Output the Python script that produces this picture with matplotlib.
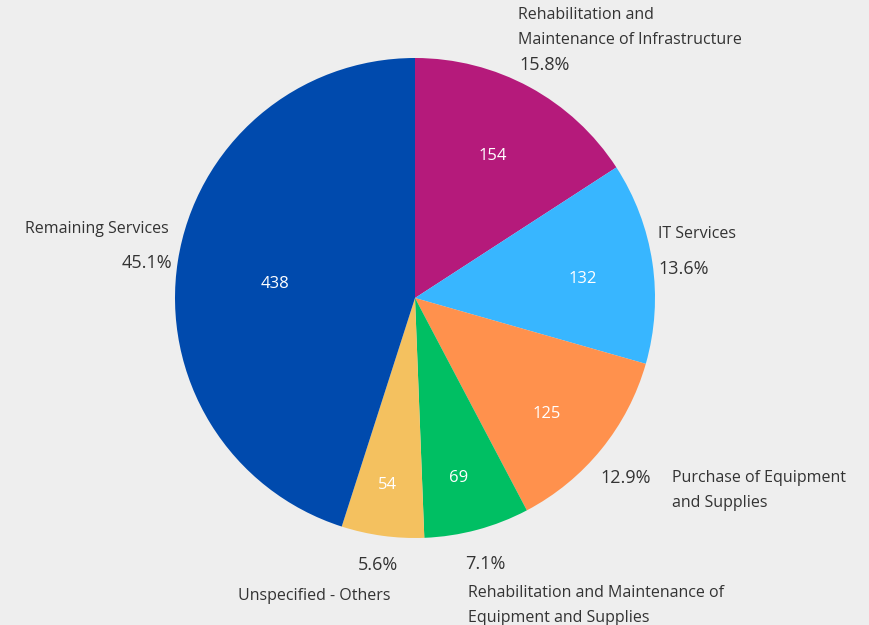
import numpy as np
import matplotlib
matplotlib.use("Agg")
import matplotlib.pyplot as plt

categories = ["Rehabilitation and\nMaintenance of Infrastructure", "IT Services",
              "Purchase of Equipment\nand Supplies",
              "Rehabilitation and Maintenance of\nEquipment and Supplies",
              "Unspecified - Others", "Remaining Services"]
values = [154, 132, 125, 69, 54, 438]
colors = ["#B51A7B", "#38B6FF", "#FF914D", "#00BF63", "#F4C15F", "#004AAD"]

# name label offset (pixels) relative to percent label, and alignment
name_offsets = [(-26, 38, "left"), (-25, 35, "left"), (46, -13, "left"),
                (-17, -42, "left"), (12, -31, "right"), (22, 34, "right")]

plt.rcParams['font.family'] = ['Open Sans', 'DejaVu Sans']
W, H = 869, 625
fig = plt.figure(figsize=(W / 100, H / 100), dpi=100)
fig.patch.set_facecolor("#EEEEEE")
cx, cy, R = 415, 298, 240
ax = fig.add_axes([(cx - R) / W, (H - cy - R) / H, 2 * R / W, 2 * R / H])
ax.set_facecolor("none")
ax.axis("off")

wedges, _ = ax.pie(values, colors=colors, startangle=90, counterclock=False,
                   radius=1, wedgeprops=dict(linewidth=0))
ax.set_xlim(-1, 1)
ax.set_ylim(-1, 1)
total = sum(values)
for w, v, name, off in zip(wedges, values, categories, name_offsets):
    ang = np.deg2rad((w.theta1 + w.theta2) / 2)
    frac = v / total
    ri = 0.78 - 0.45 * frac
    ax.annotate(str(v), (ri * np.cos(ang), ri * np.sin(ang)), xytext=(-3, -7),
                textcoords="offset pixels", color="white",
                ha="center", va="center", fontsize=12)
    ro = 1.13
    px, py = ro * np.cos(ang), ro * np.sin(ang)
    c = np.cos(ang)
    shift = -(10 * abs(c) + (1 if c > 0 else -3))
    ax.annotate(f"{100 * v / total:.1f}%", (px, py), xytext=(0, shift),
                textcoords="offset pixels", color="#333333",
                ha="center", va="center", fontsize=13, annotation_clip=False)
    ax.annotate(name, (px, py), xytext=(off[0], off[1] + shift), textcoords="offset pixels",
                ha=off[2], va="center", fontsize=11.5, color="#333333",
                linespacing=1.75, annotation_clip=False)

fig.savefig("out.png", dpi=100, facecolor=fig.get_facecolor())
